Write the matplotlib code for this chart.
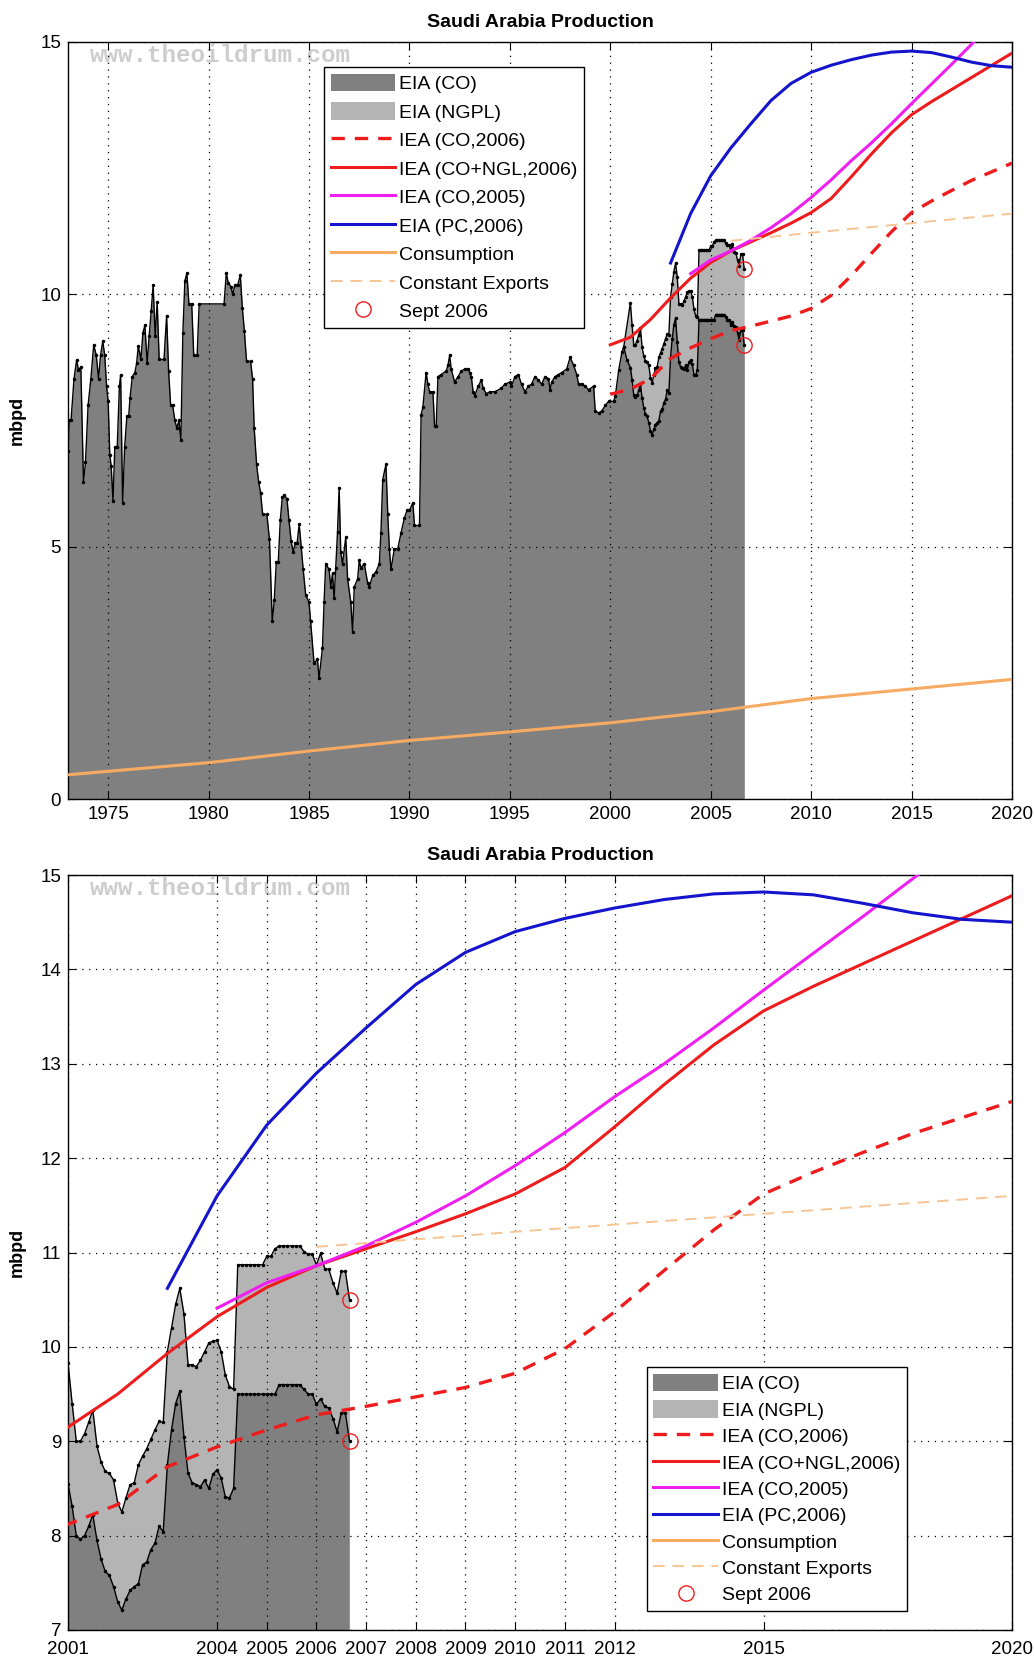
import numpy as np
import matplotlib
matplotlib.use("Agg")
import matplotlib.pyplot as plt
from matplotlib.patches import Patch
from matplotlib.lines import Line2D

plt.rcParams['font.family'] = ['Liberation Sans', 'DejaVu Sans']

# ---------------------------------------------------------------------------
# EIA crude oil production, 1973 - Dec 2000 (mbpd)
early_years = [
    1973.00, 1973.06, 1973.15, 1973.30, 1973.43, 1973.52, 1973.64, 1973.77, 1973.87,
    1974.00, 1974.14, 1974.28, 1974.41, 1974.52, 1974.62, 1974.73, 1974.83, 1974.92,
    1975.00, 1975.08, 1975.15, 1975.24, 1975.33, 1975.45, 1975.56, 1975.62, 1975.72,
    1975.82, 1975.93, 1976.02, 1976.09, 1976.20, 1976.33, 1976.42, 1976.50, 1976.63,
    1976.73, 1976.83, 1976.94, 1977.04, 1977.14, 1977.24, 1977.34, 1977.44, 1977.54,
    1977.78, 1977.91, 1978.01, 1978.11, 1978.21, 1978.32, 1978.42, 1978.52, 1978.62,
    1978.72, 1978.82, 1978.92, 1979.02, 1979.16, 1979.26, 1979.43, 1979.53, 1980.77,
    1980.88, 1980.98, 1981.11, 1981.20, 1981.31, 1981.45, 1981.58, 1981.68, 1981.78,
    1981.89, 1982.09, 1982.19, 1982.27, 1982.39, 1982.49, 1982.59, 1982.69, 1982.90,
    1983.03, 1983.17, 1983.27, 1983.37, 1983.47, 1983.57, 1983.67, 1983.77, 1983.90,
    1984.00, 1984.11, 1984.21, 1984.31, 1984.41, 1984.51, 1984.61, 1984.71, 1984.83,
    1985.00, 1985.08, 1985.25, 1985.42, 1985.50, 1985.67, 1985.75, 1985.83,
    1986.00, 1986.08, 1986.17, 1986.25, 1986.33, 1986.42, 1986.50, 1986.58, 1986.67,
    1986.83, 1986.92, 1987.08, 1987.17, 1987.25, 1987.42, 1987.50, 1987.58, 1987.75,
    1987.92, 1988.00, 1988.17, 1988.33, 1988.50, 1988.58, 1988.67, 1988.83, 1988.92,
    1989.00, 1989.08, 1989.25, 1989.42, 1989.58, 1989.75, 1989.88, 1990.00, 1990.17,
    1990.25, 1990.50, 1990.58, 1990.67, 1990.83, 1990.92, 1991.00, 1991.17, 1991.25,
    1991.33, 1991.42, 1991.58, 1991.83, 1991.92, 1992.00, 1992.08, 1992.25, 1992.42,
    1992.58, 1992.75, 1992.92, 1993.00, 1993.08, 1993.17, 1993.25, 1993.42, 1993.58,
    1993.67, 1993.83, 1994.00, 1994.25, 1994.58, 1994.75, 1995.00, 1995.08, 1995.25,
    1995.42, 1995.58, 1995.75, 1995.92, 1996.08, 1996.25, 1996.42, 1996.58, 1996.75,
    1996.92, 1997.00, 1997.08, 1997.25, 1997.42, 1997.58, 1997.83, 1998.00, 1998.17,
    1998.33, 1998.42, 1998.58, 1998.75, 1998.92, 1999.17, 1999.25, 1999.42, 1999.58,
    1999.75, 1999.92, 2000.17, 2000.25, 2000.42, 2000.58, 2000.67, 2000.83,
]
early_co = [
    6.90, 7.50, 7.50, 8.33, 8.70, 8.50, 8.56, 6.29, 6.67,
    7.80, 8.33, 9.00, 8.79, 8.33, 8.79, 9.07, 8.79, 8.18,
    7.88, 6.82, 6.60, 5.91, 6.97, 6.97, 8.18, 8.40, 5.87,
    6.97, 7.58, 7.58, 7.95, 8.37, 8.45, 8.64, 8.98, 8.71,
    9.24, 9.39, 8.64, 9.17, 9.66, 10.19, 9.17, 9.85, 8.71,
    8.71, 9.58, 8.48, 7.80, 7.80, 7.50, 7.35, 7.50, 7.12,
    9.24, 10.27, 10.42, 9.81, 9.81, 8.79, 8.79, 9.81, 9.81,
    10.42, 10.23, 10.15, 10.00, 10.19, 10.19, 10.38, 9.73, 9.28,
    8.67, 8.67, 8.33, 7.35, 6.63, 6.29, 6.06, 5.64, 5.64,
    5.15, 3.52, 3.94, 4.70, 4.70, 5.53, 5.98, 6.02, 5.95,
    5.53, 5.11, 4.89, 5.08, 5.08, 5.45, 5.00, 4.55, 4.05,
    3.90, 3.52, 2.69, 2.77, 2.39, 3.00, 3.90, 4.66,
    4.55, 4.20, 4.47, 3.98, 4.58, 5.30, 6.17, 4.89, 4.66,
    5.19, 4.36, 3.90, 3.30, 4.20, 4.36, 4.73, 4.58, 4.66,
    4.28, 4.20, 4.43, 4.50, 4.66, 5.27, 6.33, 6.63, 5.64,
    4.96, 4.55, 4.96, 4.96, 5.27, 5.57, 5.72, 5.72, 5.87,
    5.42, 5.42, 7.61, 7.77, 8.45, 8.22, 8.07, 8.07, 7.39,
    7.39, 8.37, 8.41, 8.48, 8.60, 8.79, 8.52, 8.26, 8.37,
    8.48, 8.52, 8.52, 8.45, 8.37, 8.07, 7.99, 8.18, 8.30,
    8.14, 8.03, 8.07, 8.07, 8.14, 8.22, 8.26, 8.18, 8.37,
    8.41, 8.22, 8.07, 8.18, 8.22, 8.37, 8.30, 8.22, 8.37,
    8.33, 8.11, 8.26, 8.37, 8.41, 8.45, 8.52, 8.75, 8.60,
    8.41, 8.22, 8.22, 8.18, 8.11, 8.18, 7.69, 7.65, 7.69,
    7.80, 7.88, 7.88, 7.99, 8.50, 8.86, 8.96, 8.70,
]

# Monthly EIA data, Jan 2001 - Sept 2006 (mbpd)
co_2001 = [
    8.55, 8.31, 8.00, 7.96, 8.00, 8.10, 8.22, 7.95, 7.75, 7.62, 7.58, 7.46,   # 2001
    7.30, 7.21, 7.33, 7.42, 7.46, 7.49, 7.69, 7.72, 7.85, 7.92, 8.10, 8.04,   # 2002
    8.75, 9.12, 9.40, 9.53, 9.05, 8.66, 8.56, 8.54, 8.52, 8.59, 8.50, 8.65,   # 2003
    8.70, 8.61, 8.41, 8.40, 8.50, 9.50, 9.50, 9.50, 9.50, 9.50, 9.50, 9.50,   # 2004
    9.50, 9.50, 9.50, 9.60, 9.60, 9.60, 9.60, 9.60, 9.60, 9.55, 9.50, 9.50,   # 2005
    9.39, 9.45, 9.37, 9.35, 9.24, 9.10, 9.30, 9.30, 9.00,                     # 2006
]
co_ngpl_2001 = [
    9.83, 9.40, 9.00, 9.00, 9.08, 9.20, 9.33, 8.95, 8.78, 8.68, 8.66, 8.59,   # 2001
    8.35, 8.25, 8.40, 8.54, 8.56, 8.75, 8.84, 8.92, 9.02, 9.12, 9.21, 9.20,   # 2002
    9.95, 10.20, 10.45, 10.62, 10.35, 9.81, 9.81, 9.79, 9.86, 9.95, 10.04, 10.06,  # 2003
    10.07, 9.95, 9.70, 9.58, 9.55, 10.87, 10.87, 10.87, 10.87, 10.87, 10.87, 10.87,  # 2004
    10.96, 10.96, 11.04, 11.07, 11.07, 11.07, 11.07, 11.07, 11.07, 11.01, 10.98, 10.98,  # 2005
    10.87, 10.99, 10.83, 10.82, 10.68, 10.57, 10.80, 10.80, 10.50,            # 2006
]

# Projections (mbpd)
iea06_years = list(range(2000, 2021))
iea06_co = [8.02, 8.12, 8.33, 8.73, 8.94, 9.12, 9.28, 9.37, 9.47, 9.57, 9.72,
            9.98, 10.37, 10.81, 11.24, 11.62, 11.85, 12.06, 12.26, 12.43, 12.60]
iea06_co_ngl = [9.00, 9.15, 9.50, 9.93, 10.32, 10.63, 10.86, 11.04, 11.22, 11.41, 11.62,
                11.90, 12.33, 12.78, 13.20, 13.56, 13.82, 14.06, 14.30, 14.54, 14.78]
iea05_years = list(range(2004, 2020))
iea05_co = [10.41, 10.68, 10.86, 11.07, 11.32, 11.60, 11.92, 12.27, 12.65, 13.00,
            13.38, 13.78, 14.17, 14.56, 14.96, 15.36]
eia06_years = list(range(2003, 2021))
eia06_pc = [10.62, 11.60, 12.35, 12.90, 13.38, 13.84, 14.18, 14.40, 14.54, 14.65,
            14.74, 14.80, 14.82, 14.79, 14.70, 14.60, 14.53, 14.50]
cons_years = [1973, 1980, 1985, 1990, 1995, 2000, 2005, 2010, 2015, 2020]
consumption = [0.48, 0.72, 0.95, 1.16, 1.33, 1.51, 1.73, 1.99, 2.18, 2.37]
exports_years = [2006, 2010, 2015, 2020]
constant_exports = [11.06, 11.22, 11.41, 11.60]

# ---------------------------------------------------------------------------
months_2001 = 2001 + np.arange(len(co_2001)) / 12.0
co_x = np.concatenate([early_years, months_2001])
co_y = np.concatenate([early_co, co_2001])
tot_x = np.concatenate([[early_years[-2]], months_2001])
tot_y = np.concatenate([[early_co[-2]], co_ngpl_2001])

C_DARK = '#808080'
C_LIGHT = '#b4b4b4'
C_RED = '#ee1c1c'
C_MAG = '#f01ef0'
C_BLUE = '#1414cc'
C_CONS = '#f6aa62'
C_EXP = '#f7c594'

W, H = 1034, 1659
fig = plt.figure(figsize=(W / 100, H / 100), dpi=100)
ax1 = fig.add_axes([68 / W, 1 - 799 / H, 944 / W, 757 / H])
ax2 = fig.add_axes([68 / W, 1 - 1630 / H, 944 / W, 755 / H])


def draw(ax, ymin):
    ax.fill_between(tot_x, tot_y, ymin, color=C_LIGHT, lw=0, zorder=1)
    ax.fill_between(co_x, co_y, ymin, color=C_DARK, lw=0, zorder=1.1)
    ax.plot(tot_x, tot_y, '-', color='k', lw=1.0, marker='.', ms=3, zorder=3)
    ax.plot(co_x, co_y, '-', color='k', lw=1.0, marker='.', ms=3, zorder=3)
    ax.plot(iea06_years, iea06_co, '--', color=C_RED, lw=2.4, dashes=(4, 3), zorder=4)
    ax.plot(iea06_years, iea06_co_ngl, '-', color=C_RED, lw=2.2, zorder=4)
    ax.plot(iea05_years, iea05_co, '-', color=C_MAG, lw=2.2, zorder=4)
    ax.plot(eia06_years, eia06_pc, '-', color=C_BLUE, lw=2.2, zorder=4)
    ax.plot(cons_years, consumption, '-', color=C_CONS, lw=2.2, zorder=4)
    ax.plot(exports_years, constant_exports, '--', color=C_EXP, lw=1.4, dashes=(6, 4), zorder=4)
    ax.plot([co_x[-1], tot_x[-1]], [co_y[-1], tot_y[-1]], 'o', mfc='none',
            mec=C_RED, mew=1.0, ms=11, zorder=5)
    ax.grid(True, color='k', lw=0.9, ls=(0, (1, 4.5)))
    ax.set_axisbelow(False)
    ax.tick_params(direction='in', top=True, right=True, length=6, width=0.8,
                   labelsize=13.5, pad=5)
    for s in ax.spines.values():
        s.set_linewidth(1.0)
    ax.set_title('Saudi Arabia Production', fontsize=14, fontweight='bold', pad=11)
    ax.set_ylabel('mbpd', fontsize=13, fontweight='bold')
    ax.yaxis.set_label_coords(-0.045, 0.5)
    ax.text(0.023, 0.982, 'www.theoildrum.com', transform=ax.transAxes,
            family='Liberation Mono', fontweight='bold', color='#cdcdcd',
            fontsize=17.5, va='center', ha='left', zorder=2)


draw(ax1, 0)
ax1.set_xlim(1973, 2020)
ax1.set_ylim(0, 15)
ax1.set_xticks(range(1975, 2021, 5))
ax1.set_yticks([0, 5, 10, 15])

draw(ax2, 7)
ax2.set_xlim(2001, 2020)
ax2.set_ylim(7, 15)
ax2.set_xticks([2001, 2004, 2005, 2006, 2007, 2008, 2009, 2010, 2011, 2012, 2015, 2020])
ax2.set_yticks(range(7, 16))
ax2.tick_params(axis='x', pad=8)

handles = [
    Patch(facecolor=C_DARK, edgecolor='none'),
    Patch(facecolor=C_LIGHT, edgecolor='none'),
    Line2D([], [], color=C_RED, lw=2.4, ls='--', dashes=(4, 3)),
    Line2D([], [], color=C_RED, lw=2.2),
    Line2D([], [], color=C_MAG, lw=2.2),
    Line2D([], [], color=C_BLUE, lw=2.2),
    Line2D([], [], color=C_CONS, lw=2.2),
    Line2D([], [], color=C_EXP, lw=1.4, ls='--', dashes=(6, 4)),
    Line2D([], [], ls='none', marker='o', mfc='none', mec=C_RED, mew=1.0, ms=11),
]
labels = ['EIA (CO)', 'EIA (NGPL)', 'IEA (CO,2006)', 'IEA (CO+NGL,2006)',
          'IEA (CO,2005)', 'EIA (PC,2006)', 'Consumption', 'Constant Exports',
          'Sept 2006']

for ax, loc, anchor, spacing in [(ax1, 'upper left', (0.271, 0.967), 0.47),
                                 (ax2, 'lower left', (0.613, 0.025), 0.36)]:
    leg = ax.legend(handles, labels, loc=loc, bbox_to_anchor=anchor,
                    borderaxespad=0, fontsize=14, handlelength=3.3,
                    handleheight=1.0, handletextpad=0.2, labelspacing=spacing,
                    borderpad=0.35, fancybox=False, framealpha=1,
                    edgecolor='k')
    leg.get_frame().set_linewidth(1.0)
    leg.set_zorder(10)

fig.savefig('out.png', dpi=100)
